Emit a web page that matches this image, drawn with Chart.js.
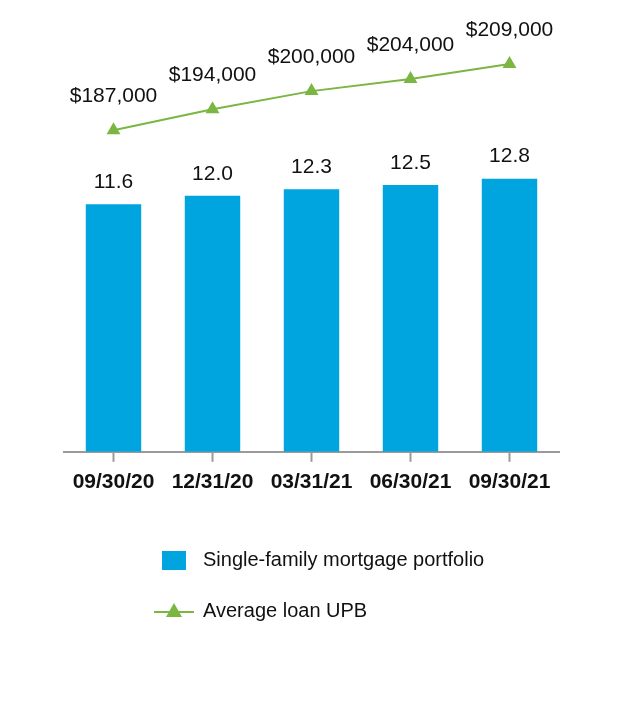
<!DOCTYPE html>
<html>
<head>
<meta charset="utf-8">
<script src="https://cdn.jsdelivr.net/npm/chart.js@4.4.0/dist/chart.umd.min.js"></script>
<style>
  html, body { margin: 0; padding: 0; background: #fff; }
  #wrap { width: 640px; height: 708px; }
</style>
</head>
<body>
<div id="wrap"><canvas id="chartPortfolio" width="640" height="708"></canvas></div>
<script>
var dates = ["09/30/20", "12/31/20", "03/31/21", "06/30/21", "09/30/21"];
var portfolio = [11.6, 12.0, 12.3, 12.5, 12.8];
var avgLoan = [187000, 194000, 200000, 204000, 209000];

var FONT = "'Liberation Sans', Arial, sans-serif";
var blue = "#00a5e0";
var green = "#7ab641";

// value labels above bars and triangles
var valueLabels = {
    id: "valueLabels",
    afterDatasetsDraw: function (chart) {
        var ctx = chart.ctx;
        ctx.save();
        ctx.fillStyle = "#111";
        ctx.textAlign = "center";
        ctx.textBaseline = "middle";
        ctx.font = "21px " + FONT;
        chart.getDatasetMeta(0).data.forEach(function (bar, i) {
            ctx.fillText(portfolio[i].toFixed(1), bar.x, bar.y - 22);
        });
        chart.getDatasetMeta(1).data.forEach(function (pt, i) {
            ctx.fillText("$" + avgLoan[i].toLocaleString("en-US"), pt.x, pt.y - 34);
        });
        ctx.restore();
    }
};

// legend stacked under the axis
var stackedLegend = {
    id: "stackedLegend",
    afterDraw: function (chart) {
        var ctx = chart.ctx;
        var ds = chart.data.datasets;
        ctx.save();
        ctx.font = "20px " + FONT;
        ctx.textBaseline = "middle";

        ctx.fillStyle = ds[0].backgroundColor;
        ctx.fillRect(162, 551, 24, 19);
        ctx.fillStyle = "#111";
        ctx.fillText(ds[0].label, 203, 560);

        ctx.strokeStyle = ds[1].borderColor;
        ctx.lineWidth = 2;
        ctx.beginPath();
        ctx.moveTo(154, 612);
        ctx.lineTo(194, 612);
        ctx.stroke();
        ctx.fillStyle = ds[1].pointBackgroundColor;
        ctx.beginPath();
        ctx.moveTo(174, 603);
        ctx.lineTo(182, 617);
        ctx.lineTo(166, 617);
        ctx.closePath();
        ctx.fill();
        ctx.fillStyle = "#111";
        ctx.fillText(ds[1].label, 203, 611);
        ctx.restore();
    }
};

var portfolioCtx = document.getElementById("chartPortfolio").getContext("2d");
var chart = new Chart(portfolioCtx, {
    type: "bar",
    data: {
        labels: dates,
        datasets: [
            {
                type: "bar",
                label: "Single-family mortgage portfolio",
                data: portfolio,
                backgroundColor: blue,
                yAxisID: "y",
                barPercentage: 0.56,
                categoryPercentage: 1,
                order: 2
            },
            {
                type: "line",
                label: "Average loan UPB",
                data: avgLoan,
                borderColor: green,
                backgroundColor: green,
                pointBackgroundColor: green,
                pointBorderColor: green,
                pointBorderWidth: 0,
                pointStyle: "triangle",
                pointRadius: 8,
                borderWidth: 2,
                tension: 0,
                yAxisID: "y2",
                order: 1
            }
        ]
    },
    plugins: [valueLabels, stackedLegend],
    options: {
        responsive: false,
        animation: false,
        layout: { padding: { left: 64, right: 81, top: 25, bottom: 205 } },
        plugins: {
            legend: { display: false },
            tooltip: { enabled: false }
        },
        scales: {
            x: {
                grid: {
                    display: true,
                    offset: false,
                    drawOnChartArea: false,
                    drawTicks: true,
                    tickLength: 10,
                    tickWidth: 2,
                    color: "#9a9a9a"
                },
                border: { display: true, color: "#9a9a9a", width: 2 },
                ticks: {
                    color: "#111",
                    padding: 8,
                    maxRotation: 0,
                    autoSkip: false,
                    font: { family: FONT, size: 21, weight: "bold" }
                }
            },
            y: { display: false, min: 0, max: 20 },
            y2: { display: false, min: 80000, max: 222000 }
        }
    }
});
</script>
</body>
</html>
